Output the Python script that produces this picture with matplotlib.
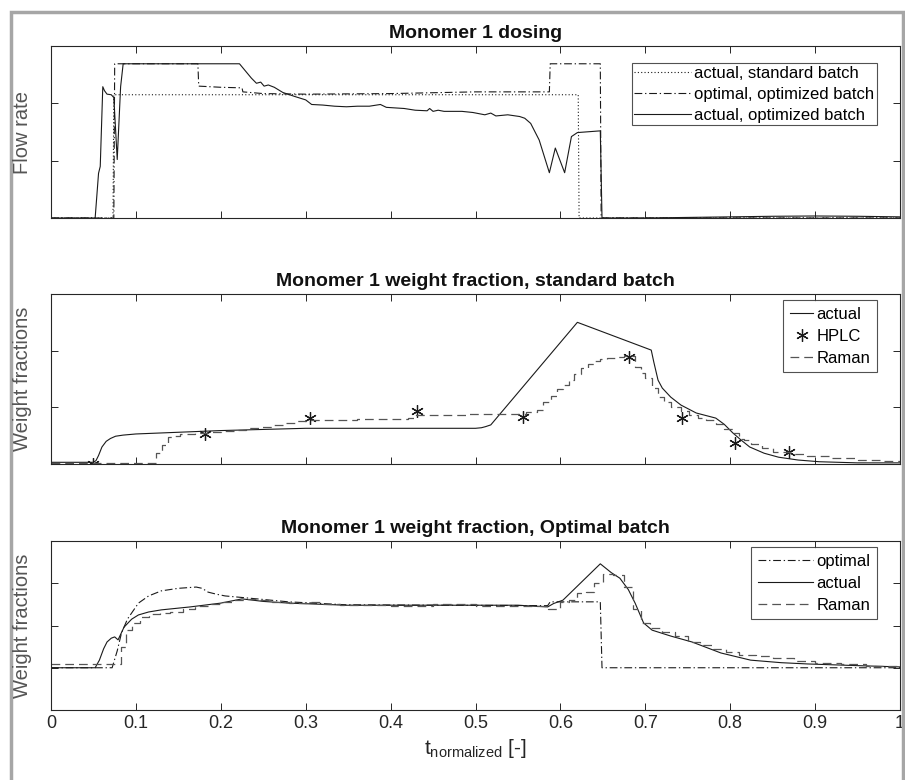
import matplotlib
matplotlib.use("Agg")
import matplotlib.pyplot as plt
from matplotlib import font_manager
from matplotlib.patches import Rectangle

# fonts: MATLAB-like narrow Helvetica look
names = {f.name for f in font_manager.fontManager.ttflist}
narrow = 'Liberation Sans Narrow' if 'Liberation Sans Narrow' in names else 'Liberation Sans'
plt.rcParams['font.family'] = [narrow, 'DejaVu Sans']
plt.rcParams['mathtext.fontset'] = 'custom'
plt.rcParams['mathtext.rm'] = narrow
plt.rcParams['mathtext.default'] = 'regular'

# ---- panel 1: Monomer 1 dosing (flow rate) ----
std_t = [0, 0.073, 0.074, 0.621, 0.622, 1.0]
std_v = [0, 0, 2.15, 2.15, 0, 0]

opt_t = [0, 0.074, 0.075, 0.173, 0.174, 0.2, 0.225, 0.226, 0.25, 0.3, 0.4, 0.5,
         0.587, 0.588, 0.647, 0.648, 1.0]
opt_v = [0, 0, 2.69, 2.69, 2.3, 2.28, 2.27, 2.2, 2.17, 2.16, 2.17, 2.2,
         2.2, 2.69, 2.69, 0, 0]

act_t = [0, 0.052, 0.056, 0.058, 0.061, 0.063, 0.066, 0.071, 0.074, 0.078,
         0.082, 0.085, 0.222, 0.236, 0.242, 0.247, 0.251, 0.256, 0.263, 0.273,
         0.287, 0.3, 0.307, 0.32, 0.334, 0.348, 0.361, 0.375, 0.388, 0.395,
         0.416, 0.429, 0.443, 0.446, 0.45, 0.456, 0.463, 0.484, 0.497, 0.511,
         0.518, 0.524, 0.538, 0.552, 0.558, 0.565, 0.575, 0.587, 0.594, 0.605,
         0.613, 0.62, 0.647, 0.649, 0.7, 0.75, 0.8, 0.85, 0.9, 0.95, 1.0]
act_v = [0, 0, 0.78, 0.9, 2.29, 2.22, 2.16, 2.15, 2.1, 1.02,
         2.29, 2.69, 2.69, 2.44, 2.35, 2.37, 2.30, 2.32, 2.28, 2.19,
         2.12, 2.06, 1.98, 1.97, 1.95, 1.94, 1.95, 1.95, 1.98, 1.93,
         1.91, 1.88, 1.87, 1.91, 1.86, 1.88, 1.86, 1.86, 1.84, 1.80,
         1.83, 1.78, 1.80, 1.77, 1.74, 1.65, 1.36, 0.79, 1.22, 0.79,
         1.42, 1.49, 1.52, 0.0, 0.0, 0.01, 0.02, 0.03, 0.035, 0.03, 0.02]

# ---- panel 2: standard batch weight fraction ----
s_act_t = [0, 0.05, 0.053, 0.056, 0.06, 0.065, 0.07, 0.076, 0.085, 0.1,
           0.15, 0.2, 0.25, 0.3, 0.4, 0.5, 0.507, 0.512, 0.518, 0.62,
           0.707, 0.71, 0.715, 0.72, 0.73, 0.742, 0.76, 0.783, 0.793, 0.803,
           0.813, 0.823, 0.84, 0.857, 0.88, 0.905, 0.95, 1.0]
s_act_v = [0.03, 0.03, 0.06, 0.15, 0.3, 0.4, 0.45, 0.49, 0.51, 0.53,
           0.56, 0.59, 0.61, 0.63, 0.63, 0.63, 0.64, 0.66, 0.69, 2.5,
           2.01, 1.8, 1.48, 1.34, 1.18, 1.04, 0.9, 0.81, 0.7, 0.55,
           0.42, 0.3, 0.19, 0.12, 0.07, 0.04, 0.02, 0.02]

hplc_t = [0.049, 0.181, 0.305, 0.431, 0.556, 0.681, 0.743, 0.806, 0.869]
hplc_v = [0.0, 0.53, 0.81, 0.94, 0.83, 1.89, 0.81, 0.37, 0.21]

s_ram_t = [0, 0.124, 0.131, 0.138, 0.145, 0.152, 0.17, 0.185, 0.2, 0.215,
           0.23, 0.245, 0.26, 0.275, 0.29, 0.305, 0.33, 0.36, 0.39, 0.42,
           0.43, 0.46, 0.49, 0.52, 0.545, 0.56, 0.572, 0.58, 0.589, 0.596,
           0.603, 0.61, 0.616, 0.624, 0.633, 0.64, 0.647, 0.655, 0.665, 0.675,
           0.688, 0.695, 0.7, 0.708, 0.715, 0.722, 0.73, 0.742, 0.752, 0.762,
           0.772, 0.783, 0.793, 0.803, 0.81, 0.816, 0.825, 0.837, 0.85, 0.87,
           0.89, 0.92, 0.95, 0.98, 1.0]
s_ram_v = [0.02, 0.2, 0.34, 0.48, 0.5, 0.53, 0.54, 0.56, 0.58, 0.6,
           0.63, 0.66, 0.68, 0.72, 0.76, 0.77, 0.78, 0.79, 0.8, 0.82,
           0.86, 0.87, 0.88, 0.89, 0.89, 0.92, 0.96, 1.09, 1.2, 1.32,
           1.4, 1.48, 1.58, 1.69, 1.76, 1.82, 1.85, 1.87, 1.88, 1.9,
           1.71, 1.6, 1.52, 1.35, 1.18, 1.1, 1.0, 0.93, 0.86, 0.82,
           0.78, 0.7, 0.62, 0.55, 0.45, 0.42, 0.35, 0.28, 0.22, 0.17,
           0.14, 0.1, 0.07, 0.05, 0.05]

# ---- panel 3: optimal batch weight fraction ----
o_opt_t = [0, 0.072, 0.078, 0.083, 0.09, 0.103, 0.115, 0.13, 0.15, 0.171,
           0.178, 0.185, 0.195, 0.205, 0.232, 0.28, 0.348, 0.585, 0.588, 0.647,
           0.649, 1.0]
o_opt_v = [1.0, 1.0, 1.4, 1.82, 2.15, 2.53, 2.7, 2.82, 2.88, 2.91,
           2.88, 2.79, 2.74, 2.70, 2.65, 2.56, 2.49, 2.47, 2.56, 2.56,
           1.0, 1.0]

o_act_t = [0, 0.052, 0.057, 0.062, 0.066, 0.071, 0.075, 0.079, 0.086, 0.095,
           0.103, 0.115, 0.13, 0.164, 0.2, 0.225, 0.25, 0.28, 0.348, 0.45,
           0.55, 0.585, 0.592, 0.603, 0.647, 0.66, 0.67, 0.68, 0.688, 0.698,
           0.708, 0.73, 0.755, 0.789, 0.824, 0.86, 0.891, 0.95, 1.0]
o_act_v = [1.0, 1.0, 1.18, 1.45, 1.61, 1.7, 1.73, 1.66, 1.96, 2.15,
           2.25, 2.32, 2.37, 2.44, 2.53, 2.63, 2.57, 2.53, 2.48, 2.48,
           2.48, 2.44, 2.52, 2.6, 3.46, 3.25, 3.12, 2.85, 2.53, 2.06,
           1.89, 1.75, 1.61, 1.35, 1.18, 1.12, 1.09, 1.05, 1.02]

o_ram_t = [0, 0.055, 0.078, 0.082, 0.088, 0.095, 0.105, 0.115, 0.128, 0.14,
           0.155, 0.17, 0.185, 0.2, 0.215, 0.23, 0.245, 0.26, 0.28, 0.3,
           0.32, 0.34, 0.37, 0.4, 0.45, 0.5, 0.55, 0.585, 0.6, 0.61,
           0.62, 0.63, 0.64, 0.65, 0.662, 0.675, 0.685, 0.695, 0.705, 0.72,
           0.735, 0.75, 0.765, 0.78, 0.795, 0.81, 0.83, 0.85, 0.875, 0.9,
           0.93, 0.96, 1.0]
o_ram_v = [1.1, 1.1, 1.1, 1.5, 1.9, 2.05, 2.2, 2.28, 2.3, 2.33,
           2.38, 2.45, 2.5, 2.55, 2.6, 2.62, 2.6, 2.55, 2.53, 2.55,
           2.5, 2.49, 2.48, 2.47, 2.5, 2.47, 2.45, 2.4, 2.55, 2.6,
           2.78, 2.8, 3.0, 3.22, 3.2, 2.9, 2.4, 2.05, 1.93, 1.85,
           1.75, 1.62, 1.55, 1.45, 1.38, 1.3, 1.28, 1.22, 1.15, 1.12,
           1.08, 1.05, 1.02]

xticks = [0, 0.1, 0.2, 0.3, 0.4, 0.5, 0.6, 0.7, 0.8, 0.9, 1]
xticklabels = ['0', '0.1', '0.2', '0.3', '0.4', '0.5', '0.6', '0.7', '0.8', '0.9', '1']

W, H = 905, 780
fig = plt.figure(figsize=(W / 100, H / 100), dpi=100)


def px_axes(left, top, right, bottom):
    return fig.add_axes([left / W, 1 - bottom / H, (right - left) / W, (bottom - top) / H])


ax1 = px_axes(51, 46, 900, 218)
ax2 = px_axes(51, 294, 900, 464)
ax3 = px_axes(51, 541, 900, 710)

ink = '#1a1a1a'
gray = '#555555'

ax1.plot(std_t, std_v, ls=(0, (1, 2)), color=ink, lw=0.8, label='actual, standard batch')
ax1.plot(opt_t, opt_v, ls=(0, (7, 2.5, 1.2, 2.5)), color=ink, lw=0.8, label='optimal, optimized batch')
ax1.plot(act_t, act_v, ls='-', color=ink, lw=0.8, label='actual, optimized batch')

ax2.plot(s_act_t, s_act_v, '-', color=ink, lw=0.8, label='actual')
ax2.plot(hplc_t, hplc_v, ls='none', marker=(6, 2, 0), ms=9, mew=0.9, color=ink, label='HPLC')
ax2.plot(s_ram_t, s_ram_v, ls=(0, (7, 4)), drawstyle='steps-post', color=gray, lw=0.9, label='Raman')

ax3.plot(o_opt_t, o_opt_v, ls=(0, (7, 2.5, 1.2, 2.5)), color=ink, lw=0.8, label='optimal')
ax3.plot(o_act_t, o_act_v, '-', color=ink, lw=0.8, label='actual')
ax3.plot(o_ram_t, o_ram_v, ls=(0, (7, 4)), drawstyle='steps-post', color=gray, lw=0.9, label='Raman')

# axes, title, ymax, yticks, legend anchor, handle length, label spacing, border pad
setup = [
    (ax1, 'Monomer 1 dosing', 3, [1, 2], (0.973, 0.901), 3.4, 0.36, 0.15),
    (ax2, 'Monomer 1 weight fraction, standard batch', 3, [1, 2], (0.973, 0.965), 1.4, 0.42, 0.4),
    (ax3, 'Monomer 1 weight fraction, Optimal batch', 4, [1, 2, 3], (0.973, 0.965), 3.3, 0.42, 0.4),
]
for ax, title, ymax, yt, anchor, hl, ls_, bp in setup:
    ax.set_xlim(0, 1)
    ax.set_ylim(0, ymax)
    ax.set_xticks(xticks)
    ax.set_yticks(yt)
    ax.set_yticklabels([])
    ax.tick_params(direction='in', top=True, right=True, length=5, width=0.7,
                   colors='#262626', labelsize=13)
    for s in ax.spines.values():
        s.set_color('#262626')
        s.set_linewidth(0.8)
    ax.set_title(title, fontsize=14, fontweight='bold', pad=6, color='#111111')
    leg = ax.legend(loc='upper right', bbox_to_anchor=anchor, borderaxespad=0,
                    fontsize=12, frameon=True, fancybox=False, handlelength=hl,
                    handletextpad=0.2, labelspacing=ls_, borderpad=bp)
    leg.get_frame().set_edgecolor('#262626')
    leg.get_frame().set_linewidth(0.8)

ax1.set_xticklabels([])
ax2.set_xticklabels([])
ax3.set_xticklabels(xticklabels)
ax3.set_xlabel(r'$t_{normalized}$ [-]', fontsize=15, color='#262626', labelpad=4)

# y labels (regular-width font, like MATLAB)
for ax, txt in [(ax1, 'Flow rate'), (ax2, 'Weight fractions'), (ax3, 'Weight fractions')]:
    b = ax.get_position()
    fig.text(22 / W, b.y0 + b.height / 2, txt, rotation=90, ha='center', va='center',
             fontsize=14.5, color='#555555', family=['Liberation Sans', 'DejaVu Sans'])

# gray frame around the figure
fig.add_artist(Rectangle((11 / W, -0.05), (903 - 11) / W, 1.05 - 12 / H,
                         transform=fig.transFigure, fill=False,
                         edgecolor='#a6a6a6', lw=2.5))

fig.savefig('out.png', dpi=100)
